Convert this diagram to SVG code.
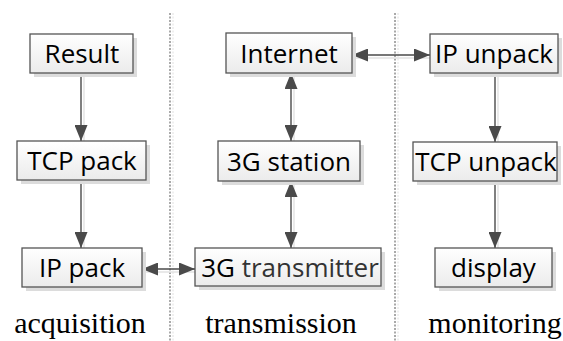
<svg xmlns="http://www.w3.org/2000/svg" width="563" height="341" viewBox="0 0 563 341">
  <style>
    .box { fill: url(#boxFill); stroke: #555555; stroke-width: 1.3; }
    .shadow { fill: #dcdcdc; }
    .lbl { font-family: "Open Sans", "Liberation Sans", sans-serif; font-size: 26px; fill: #000; text-anchor: middle; }
    .stage { font-family: "Liberation Serif", "Times New Roman", serif; font-size: 30px; fill: #000; text-anchor: middle; }
    .link { stroke: #4a4a4a; stroke-width: 1.4; fill: none; }
    .linkShade { stroke: #e2e2e2; stroke-width: 1.4; fill: none; }
    .divider { stroke: #555555; stroke-width: 1; stroke-dasharray: 2 1.5; }
    .dividerShade { stroke: #e0e0e0; stroke-width: 1; stroke-dasharray: 2 1.5; }
  </style>
  <defs>
    <linearGradient id="boxFill" x1="0" y1="0" x2="0" y2="1">
      <stop offset="0" stop-color="#ffffff"/>
      <stop offset="1" stop-color="#ebebeb"/>
    </linearGradient>
    <marker id="head" markerUnits="userSpaceOnUse" markerWidth="17" markerHeight="13" refX="16" refY="6.5" orient="auto-start-reverse">
      <path d="M0,0 L16,6.5 L0,13 Z" fill="#4a4a4a"/>
    </marker>
  </defs>

  <rect width="563" height="341" fill="#ffffff"/>

  <!-- stage dividers -->
  <g id="dividers">
    <line class="dividerShade" x1="173" y1="13" x2="173" y2="341"/>
    <line class="divider" x1="170" y1="13" x2="170" y2="341"/>
    <line class="dividerShade" x1="398" y1="13" x2="398" y2="341"/>
    <line class="divider" x1="395" y1="13" x2="395" y2="341"/>
  </g>

  <!-- connectors -->
  <g id="connectors">
    <line class="linkShade" x1="84" y1="76" x2="84" y2="141"/>
    <line class="linkShade" x1="84" y1="183" x2="84" y2="248"/>
    <line class="linkShade" x1="294" y1="76" x2="294" y2="141"/>
    <line class="linkShade" x1="294" y1="184" x2="294" y2="248"/>
    <line class="linkShade" x1="498" y1="76" x2="498" y2="142"/>
    <line class="linkShade" x1="498" y1="184" x2="498" y2="248"/>
    <line class="linkShade" x1="145" y1="272" x2="195" y2="272"/>
    <line class="linkShade" x1="355" y1="58" x2="430" y2="58"/>

    <line class="link" x1="81" y1="73" x2="81" y2="141" marker-end="url(#head)"/>
    <line class="link" x1="81" y1="180" x2="81" y2="248" marker-end="url(#head)"/>
    <line class="link" x1="142" y1="269" x2="195" y2="269" marker-start="url(#head)" marker-end="url(#head)"/>
    <line class="link" x1="291" y1="181" x2="291" y2="248" marker-start="url(#head)" marker-end="url(#head)"/>
    <line class="link" x1="291" y1="73" x2="291" y2="141" marker-start="url(#head)" marker-end="url(#head)"/>
    <line class="link" x1="352" y1="55" x2="430" y2="55" marker-start="url(#head)" marker-end="url(#head)"/>
    <line class="link" x1="495" y1="73" x2="495" y2="142" marker-end="url(#head)"/>
    <line class="link" x1="495" y1="181" x2="495" y2="248" marker-end="url(#head)"/>
  </g>

  <!-- acquisition -->
  <g id="result">
    <rect class="shadow" x="34" y="38" width="103" height="39"/>
    <rect class="box" x="30" y="34" width="103" height="39"/>
    <text class="lbl" x="82" y="62.5">Result</text>
  </g>
  <g id="tcp-pack">
    <rect class="shadow" x="21" y="145" width="129" height="39"/>
    <rect class="box" x="17" y="141" width="129" height="39"/>
    <text class="lbl" x="82" y="169.5">TCP pack</text>
  </g>
  <g id="ip-pack">
    <rect class="shadow" x="26" y="252" width="120" height="39"/>
    <rect class="box" x="22" y="248" width="120" height="39"/>
    <text class="lbl" x="82" y="276.5">IP pack</text>
  </g>

  <!-- transmission -->
  <g id="internet">
    <rect class="shadow" x="230" y="37" width="126" height="40"/>
    <rect class="box" x="226" y="33" width="126" height="40"/>
    <text class="lbl" x="289" y="62.5">Internet</text>
  </g>
  <g id="station">
    <rect class="shadow" x="222" y="145" width="142" height="40"/>
    <rect class="box" x="218" y="141" width="142" height="40"/>
    <text class="lbl" x="289" y="170.5">3G station</text>
  </g>
  <g id="transmitter">
    <rect class="shadow" x="199" y="252" width="186" height="38"/>
    <rect class="box" x="195" y="248" width="186" height="38"/>
    <text class="lbl" x="290" y="276.5">3G <tspan fill="#333333">transmitter</tspan></text>
  </g>

  <!-- monitoring -->
  <g id="ip-unpack">
    <rect class="shadow" x="434" y="38" width="128" height="39"/>
    <rect class="box" x="430" y="34" width="128" height="39"/>
    <text class="lbl" x="494" y="62.5">IP unpack</text>
  </g>
  <g id="tcp-unpack">
    <rect class="shadow" x="417" y="146" width="144" height="39"/>
    <rect class="box" x="413" y="142" width="144" height="39"/>
    <text class="lbl" x="486" y="170.5">TCP unpack</text>
  </g>
  <g id="display">
    <rect class="shadow" x="439" y="252" width="117" height="39"/>
    <rect class="box" x="435" y="248" width="117" height="39"/>
    <text class="lbl" x="493.5" y="276.5">display</text>
  </g>

  <!-- stage captions -->
  <g id="captions">
    <text class="stage" x="80" y="333">acquisition</text>
    <text class="stage" x="281" y="333">transmission</text>
    <text class="stage" x="495" y="333">monitoring</text>
  </g>
</svg>
